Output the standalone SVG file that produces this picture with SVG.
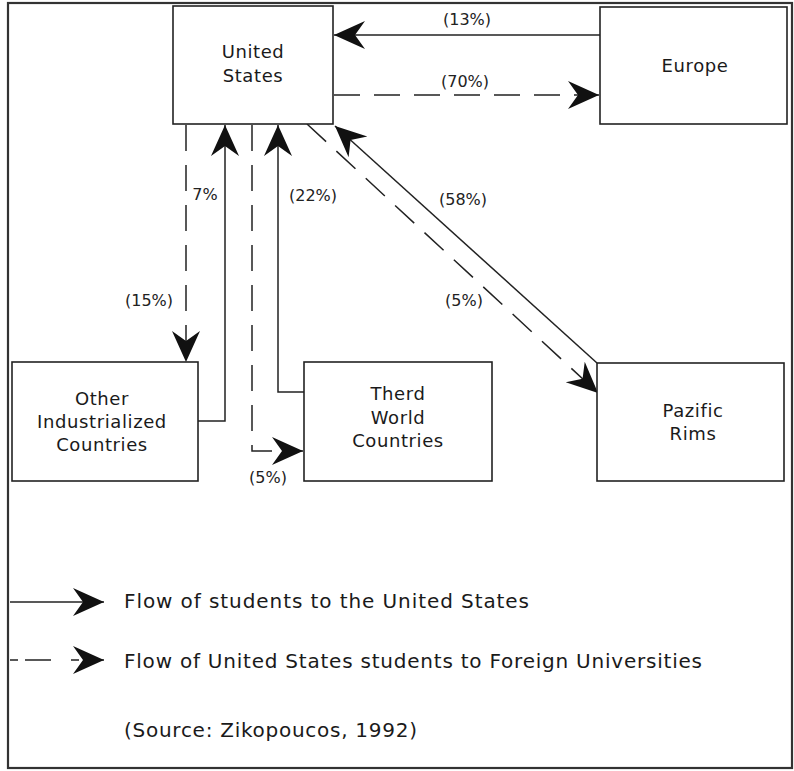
<svg xmlns="http://www.w3.org/2000/svg" width="794" height="771" viewBox="0 0 794 771">
  <style>
    .box { fill: #ffffff; stroke: #222; stroke-width: 1.6; }
    .frame { fill: #ffffff; stroke: #333; stroke-width: 2.2; }
    .solid { fill: none; stroke: #222; stroke-width: 1.5; }
    .dash { fill: none; stroke: #222; stroke-width: 1.5; stroke-dasharray: 26 14; }
    .node { font-family: "DejaVu Sans", "Liberation Sans", sans-serif; font-size: 18px; fill: #1a1a1a; text-anchor: middle; letter-spacing: 0.6px; }
    .pct { font-family: "DejaVu Sans", "Liberation Sans", sans-serif; font-size: 16px; fill: #222; text-anchor: middle; }
    .legend { font-family: "DejaVu Sans", "Liberation Sans", sans-serif; font-size: 20px; fill: #1a1a1a; }
  </style>
  <defs>
    <marker id="head" viewBox="-32 -16 34 32" refX="0" refY="0" markerWidth="34" markerHeight="32" markerUnits="userSpaceOnUse" orient="auto">
      <path d="M0,0 L-31,-14 L-21,0 L-31,14 Z" fill="#111"/>
    </marker>
  </defs>

  <!-- outer frame -->
  <rect class="frame" x="8" y="3" width="784" height="765"/>

  <!-- flow connectors -->
  <g id="connectors">
    <!-- Europe to US -->
    <path class="solid" d="M600,35 L334,35" marker-end="url(#head)"/>
    <!-- US to Europe -->
    <path class="dash" d="M334,95 L599,95" marker-end="url(#head)"/>
    <!-- US to Other Industrialized -->
    <path class="dash" d="M186,125 L186,362" marker-end="url(#head)"/>
    <!-- Other Industrialized to US -->
    <path class="solid" d="M198,421 L225,421 L225,125" marker-end="url(#head)"/>
    <!-- US to Third World -->
    <path class="dash" d="M252,125 L252,451 L303,451" marker-end="url(#head)"/>
    <!-- Third World to US -->
    <path class="solid" d="M304,392 L278,392 L278,125" marker-end="url(#head)"/>
    <!-- Pacific Rim to US -->
    <path class="solid" d="M597,363 L335,126" marker-end="url(#head)"/>
    <!-- US to Pacific Rim -->
    <path class="dash" d="M307,124 L598,393" marker-end="url(#head)"/>
  </g>

  <!-- percentage labels -->
  <g id="flow-labels">
    <text class="pct" x="467" y="25">(13%)</text>
    <text class="pct" x="465" y="87">(70%)</text>
    <text class="pct" x="205" y="200">7%</text>
    <text class="pct" x="313" y="201">(22%)</text>
    <text class="pct" x="149" y="306">(15%)</text>
    <text class="pct" x="268" y="483">(5%)</text>
    <text class="pct" x="463" y="205">(58%)</text>
    <text class="pct" x="464" y="306">(5%)</text>
  </g>

  <g id="united-states">
    <rect class="box" x="173" y="6" width="160" height="118"/>
    <text class="node" x="253" y="58">United</text>
    <text class="node" x="253" y="82">States</text>
  </g>

  <g id="europe">
    <rect class="box" x="600" y="7" width="187" height="117"/>
    <text class="node" x="695" y="72">Europe</text>
  </g>

  <g id="other-industrialized">
    <rect class="box" x="12" y="362" width="186" height="119"/>
    <text class="node" x="102" y="405">Other</text>
    <text class="node" x="102" y="428">Industrialized</text>
    <text class="node" x="102" y="451">Countries</text>
  </g>

  <g id="third-world">
    <rect class="box" x="304" y="362" width="188" height="119"/>
    <text class="node" x="398" y="400">Therd</text>
    <text class="node" x="398" y="424">World</text>
    <text class="node" x="398" y="447">Countries</text>
  </g>

  <g id="pacific-rims">
    <rect class="box" x="597" y="363" width="187" height="118"/>
    <text class="node" x="693" y="417">Pazific</text>
    <text class="node" x="693" y="440">Rims</text>
  </g>

  <!-- legend -->
  <g id="legend">
    <path class="solid" d="M10,602 L104,602" marker-end="url(#head)"/>
    <path class="solid" d="M10,660 L18,660 M25,660 L51,660 M71,660 L79,660"/>
    <path class="solid" d="M84,660 L104,660" stroke="none" marker-end="url(#head)"/>
    <text class="legend" x="124" y="608" textLength="405" lengthAdjust="spacing">Flow of students to the United States</text>
    <text class="legend" x="124" y="668" textLength="578" lengthAdjust="spacing">Flow of United States students to Foreign Universities</text>
    <text class="legend" x="124" y="737" textLength="293" lengthAdjust="spacing">(Source: Zikopoucos, 1992)</text>
  </g>
</svg>
